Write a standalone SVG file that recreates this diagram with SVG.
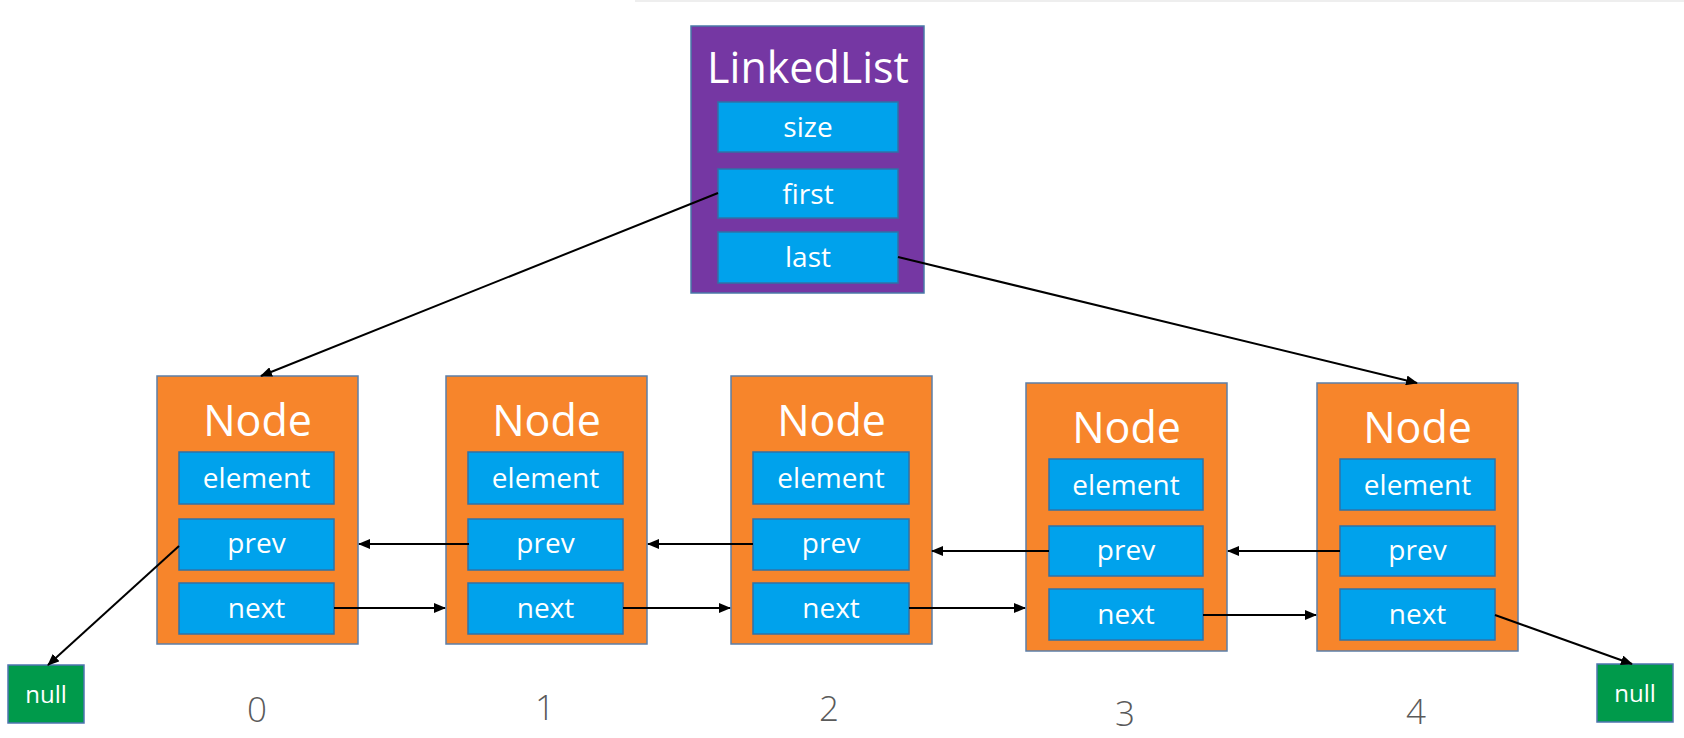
<svg xmlns="http://www.w3.org/2000/svg" width="1684" height="738" viewBox="0 0 1684 738">
<style>
.bg{fill:#ffffff}
.ll{fill:#7537a3;stroke:#4a7aa8;stroke-width:1.5}
.nd{fill:#f7852b;stroke:#5c7fa8;stroke-width:1.5}
.fd{fill:#00a2ec;stroke:#2f72a8;stroke-width:1.5}
.nl{fill:#009a4b;stroke:#4f74b0;stroke-width:1.5}
.t{font-family:"Open Sans","Noto Sans",sans-serif;fill:#ffffff;text-anchor:middle}
.title{font-size:43px}
.ltitle{font-size:43px}
.f{font-size:28px}
.nt{font-size:24px}
.idx{font-family:"Open Sans","Noto Sans",sans-serif;font-size:35px;font-weight:300;fill:#5a5a5a;text-anchor:middle}
.c{stroke:#000000;stroke-width:2;fill:none;marker-end:url(#ah)}
</style>
<defs>
<marker id="ah" markerUnits="userSpaceOnUse" markerWidth="12" markerHeight="10" refX="11" refY="5" orient="auto">
<path d="M0,0 L12,5 L0,10 z" fill="#000000"/>
</marker>
</defs>
<rect class="bg" x="0" y="0" width="1684" height="738"/>
<line x1="635" y1="1" x2="1684" y2="1" stroke="#eeeeee" stroke-width="2"/>

<g id="linkedlist">
<rect class="ll" x="691" y="26" width="233" height="267"/>
<text class="t ltitle" x="808" y="83">LinkedList</text>
<rect class="fd" x="718" y="102" width="180" height="50"/>
<text class="t f" x="808" y="137">size</text>
<rect class="fd" x="718" y="169" width="180" height="49"/>
<text class="t f" x="808" y="204">first</text>
<rect class="fd" x="718" y="232" width="180" height="51"/>
<text class="t f" x="808" y="267">last</text>
</g>

<g id="node0">
<rect class="nd" x="157" y="376" width="201" height="268"/>
<text class="t title" x="257.5" y="436">Node</text>
<rect class="fd" x="179" y="452" width="155" height="52"/>
<text class="t f" x="256.5" y="488">element</text>
<rect class="fd" x="179" y="519" width="155" height="51"/>
<text class="t f" x="256.5" y="553">prev</text>
<rect class="fd" x="179" y="583" width="155" height="51"/>
<text class="t f" x="256.5" y="618">next</text>
</g>

<g id="node1">
<rect class="nd" x="446" y="376" width="201" height="268"/>
<text class="t title" x="546.5" y="436">Node</text>
<rect class="fd" x="468" y="452" width="155" height="52"/>
<text class="t f" x="545.5" y="488">element</text>
<rect class="fd" x="468" y="519" width="155" height="51"/>
<text class="t f" x="545.5" y="553">prev</text>
<rect class="fd" x="468" y="583" width="155" height="51"/>
<text class="t f" x="545.5" y="618">next</text>
</g>

<g id="node2">
<rect class="nd" x="731" y="376" width="201" height="268"/>
<text class="t title" x="831.5" y="436">Node</text>
<rect class="fd" x="753" y="452" width="156" height="52"/>
<text class="t f" x="831" y="488">element</text>
<rect class="fd" x="753" y="519" width="156" height="51"/>
<text class="t f" x="831" y="553">prev</text>
<rect class="fd" x="753" y="583" width="156" height="51"/>
<text class="t f" x="831" y="618">next</text>
</g>

<g id="node3">
<rect class="nd" x="1026" y="383" width="201" height="268"/>
<text class="t title" x="1126.5" y="443">Node</text>
<rect class="fd" x="1049" y="459" width="154" height="51"/>
<text class="t f" x="1126" y="495">element</text>
<rect class="fd" x="1049" y="526" width="154" height="50"/>
<text class="t f" x="1126" y="560">prev</text>
<rect class="fd" x="1049" y="589" width="154" height="51"/>
<text class="t f" x="1126" y="624">next</text>
</g>

<g id="node4">
<rect class="nd" x="1317" y="383" width="201" height="268"/>
<text class="t title" x="1417.5" y="443">Node</text>
<rect class="fd" x="1340" y="459" width="155" height="51"/>
<text class="t f" x="1417.5" y="495">element</text>
<rect class="fd" x="1340" y="526" width="155" height="50"/>
<text class="t f" x="1417.5" y="560">prev</text>
<rect class="fd" x="1340" y="589" width="155" height="51"/>
<text class="t f" x="1417.5" y="624">next</text>
</g>

<g id="null-left">
<rect class="nl" x="8" y="665" width="76" height="58"/>
<text class="t nt" x="46" y="703">null</text>
</g>
<g id="null-right">
<rect class="nl" x="1597" y="664" width="76" height="58"/>
<text class="t nt" x="1635" y="702">null</text>
</g>

<g id="labels">
<text class="idx" x="257" y="722">0</text>
<text class="idx" x="545" y="720">1</text>
<text class="idx" x="829" y="721">2</text>
<text class="idx" x="1125" y="726">3</text>
<text class="idx" x="1416" y="724">4</text>
</g>

<g id="connectors">
<line class="c" x1="718" y1="193" x2="261" y2="376"/>
<line class="c" x1="898" y1="257" x2="1417" y2="383"/>
<line class="c" x1="469" y1="544" x2="359" y2="544"/>
<line class="c" x1="753" y1="544" x2="648" y2="544"/>
<line class="c" x1="1049" y1="551" x2="932" y2="551"/>
<line class="c" x1="1340" y1="551" x2="1228" y2="551"/>
<line class="c" x1="334" y1="608" x2="445" y2="608"/>
<line class="c" x1="623" y1="608" x2="730" y2="608"/>
<line class="c" x1="909" y1="608" x2="1025" y2="608"/>
<line class="c" x1="1203" y1="615" x2="1316" y2="615"/>
<line class="c" x1="1495" y1="615" x2="1632" y2="664"/>
<line class="c" x1="179" y1="546" x2="48" y2="665"/>
</g>
</svg>
